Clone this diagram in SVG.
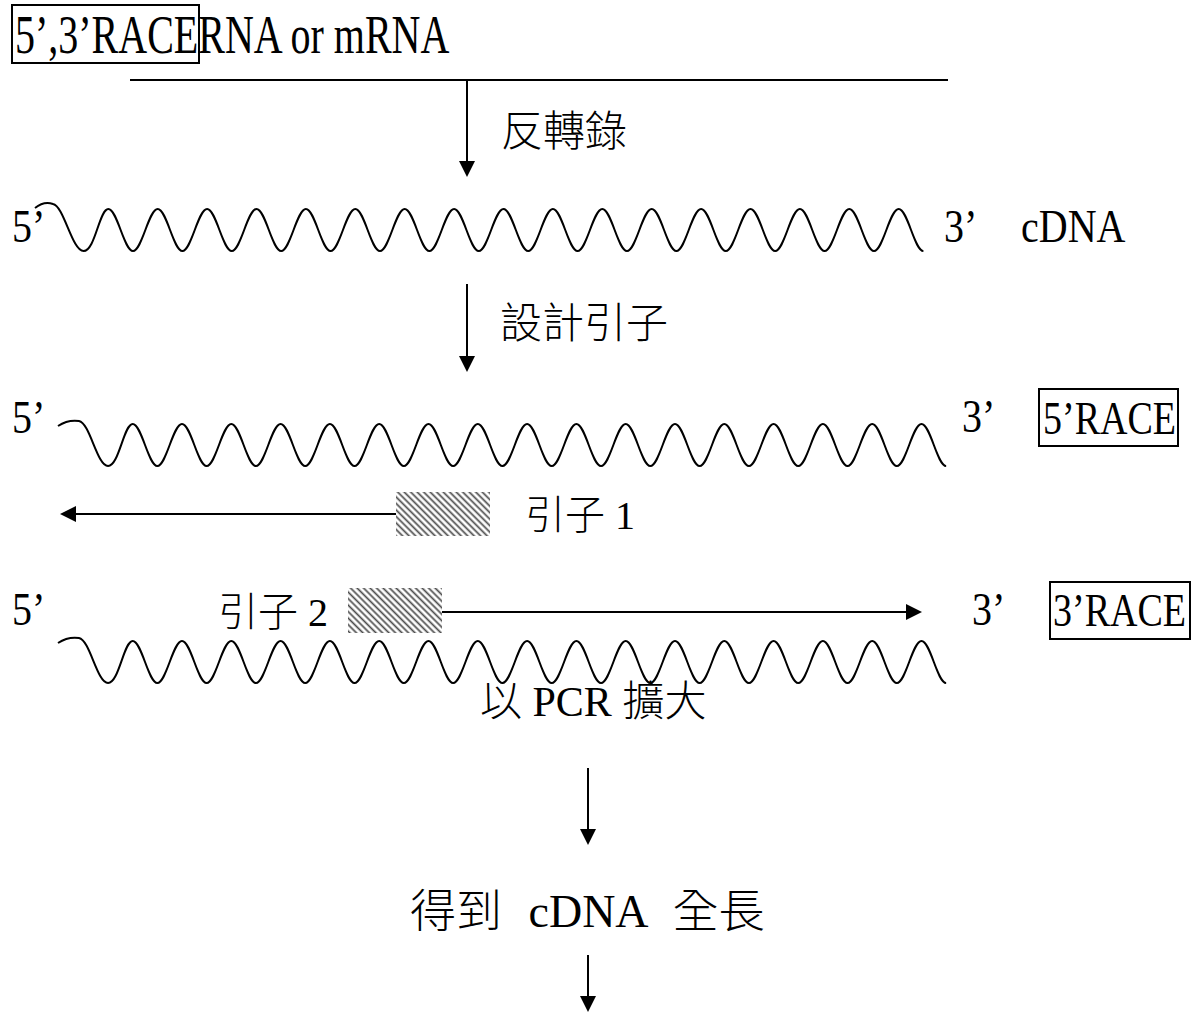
<svg xmlns="http://www.w3.org/2000/svg" width="1200" height="1015" viewBox="0 0 1200 1015">
<style>
.lat{font-family:"Liberation Serif","Noto Sans CJK TC",serif;font-size:40px;fill:#000}
.cjk{font-family:"Liberation Serif","Noto Sans CJK TC",sans-serif;font-size:42px;font-weight:300;fill:#000}
.ln{stroke:#000;stroke-width:2;fill:none}
.wave{stroke:#000;stroke-width:2;fill:none}
.box{fill:none;stroke:#000;stroke-width:2}
.hatch{fill:url(#hatch)}
</style>
<defs>
<marker id="ah" viewBox="0 0 16 16" refX="12" refY="8" markerWidth="16" markerHeight="16" orient="auto" markerUnits="userSpaceOnUse"><path d="M0,0 L16,8 L0,16 z" fill="#000"/></marker>
<pattern id="hatch" width="4.6" height="4.6" patternUnits="userSpaceOnUse" patternTransform="rotate(-45)"><rect width="4.6" height="4.6" fill="#fff"/><line x1="2.3" y1="0" x2="2.3" y2="4.6" stroke="#4a4a4a" stroke-width="1.7"/></pattern>
<path id="w2" class="wave" d="M58,426 C64,422 72,420 79,421 C90,423 97,466 108.05,466 s15.69,-42 24.65,-42 s15.69,42 24.65,42 s15.69,-42 24.65,-42 s15.69,42 24.65,42 s15.69,-42 24.65,-42 s15.69,42 24.65,42 s15.69,-42 24.65,-42 s15.69,42 24.65,42 s15.69,-42 24.65,-42 s15.69,42 24.65,42 s15.69,-42 24.65,-42 s15.69,42 24.65,42 s15.69,-42 24.65,-42 s15.69,42 24.65,42 s15.69,-42 24.65,-42 s15.69,42 24.65,42 s15.69,-42 24.65,-42 s15.69,42 24.65,42 s15.69,-42 24.65,-42 s15.69,42 24.65,42 s15.69,-42 24.65,-42 s15.69,42 24.65,42 s15.69,-42 24.65,-42 s15.69,42 24.65,42 s15.69,-42 24.65,-42 s15.69,42 24.65,42 s15.69,-42 24.65,-42 s15.69,42 24.65,42 s15.69,-42 24.65,-42 s15.69,42 24.65,42 s15.69,-42 24.65,-42 s15.69,42 24.65,42 s15.69,-42 24.65,-42 s15.69,42 24.65,42"/>
</defs>
<rect width="1200" height="1015" fill="#fff"/>

<g id="title">
<rect class="box" x="12" y="5" width="187" height="58"/>
<text class="lat" transform="translate(15,53) scale(1,1.36)">5’,3’RACERNA or mRNA</text>
</g>

<g id="rna">
<line class="ln" x1="130" y1="80" x2="948" y2="80"/>
</g>

<g id="cdna">
<text class="lat" transform="translate(12,242) scale(1,1.15)">5’</text>
<path class="wave" d="M35,208 C40,204 47,202 53,204 C64,206 72,251 83.6,251 s15.72,-42 24.7,-42 s15.72,42 24.7,42 s15.72,-42 24.7,-42 s15.72,42 24.7,42 s15.72,-42 24.7,-42 s15.72,42 24.7,42 s15.72,-42 24.7,-42 s15.72,42 24.7,42 s15.72,-42 24.7,-42 s15.72,42 24.7,42 s15.72,-42 24.7,-42 s15.72,42 24.7,42 s15.72,-42 24.7,-42 s15.72,42 24.7,42 s15.72,-42 24.7,-42 s15.72,42 24.7,42 s15.72,-42 24.7,-42 s15.72,42 24.7,42 s15.72,-42 24.7,-42 s15.72,42 24.7,42 s15.72,-42 24.7,-42 s15.72,42 24.7,42 s15.72,-42 24.7,-42 s15.72,42 24.7,42 s15.72,-42 24.7,-42 s15.72,42 24.7,42 s15.72,-42 24.7,-42 s15.72,42 24.7,42 s15.72,-42 24.7,-42 s15.72,42 24.7,42 s15.72,-42 24.7,-42 s15.72,42 24.7,42 s15.72,-42 24.7,-42 s15.72,42 24.7,42"/>
<text class="lat" transform="translate(944,242) scale(1,1.15)">3’</text>
<text class="lat" transform="translate(1021,242) scale(1,1.15)">cDNA</text>
</g>

<g id="race5">
<text class="lat" transform="translate(12,433) scale(1,1.15)">5’</text>
<use href="#w2"/>
<text class="lat" transform="translate(962,432) scale(1,1.15)">3’</text>
<rect class="box" x="1039" y="389" width="139" height="57"/>
<text class="lat" style="font-size:38px" transform="translate(1043,434) scale(1,1.2)">5’RACE</text>
</g>

<g id="primer1">
<rect class="hatch" x="396" y="492" width="94" height="44"/>
<text class="cjk" style="font-size:40px" x="525" y="529">引子 1</text>
</g>

<g id="race3">
<text class="lat" transform="translate(12,625) scale(1,1.15)">5’</text>
<use href="#w2" transform="translate(0,217)"/>
<text class="lat" transform="translate(972,625) scale(1,1.15)">3’</text>
<rect class="box" x="1050" y="582" width="140" height="57"/>
<text class="lat" style="font-size:38px" transform="translate(1053,626) scale(1,1.2)">3’RACE</text>
</g>

<g id="primer2">
<text class="cjk" style="font-size:40px" x="218" y="626">引子 2</text>
<rect class="hatch" x="348" y="588" width="94" height="45"/>
</g>

<g id="pcr">
<text class="cjk" x="480" y="716">以 PCR 擴大</text>
</g>

<g id="full">
<text class="cjk" style="font-size:46px;word-spacing:15px" x="410" y="927">得到 cDNA 全長</text>
</g>

<g id="connectors">
<line class="ln" x1="467" y1="80" x2="467" y2="173" marker-end="url(#ah)"/>
<text class="cjk" x="501" y="146">反轉錄</text>
<line class="ln" x1="467" y1="284" x2="467" y2="368" marker-end="url(#ah)"/>
<text class="cjk" x="500" y="338">設計引子</text>
<line class="ln" x1="396" y1="514" x2="64" y2="514" marker-end="url(#ah)"/>
<line class="ln" x1="442" y1="612" x2="918" y2="612" marker-end="url(#ah)"/>
<line class="ln" x1="588" y1="768" x2="588" y2="841" marker-end="url(#ah)"/>
<line class="ln" x1="588" y1="955" x2="588" y2="1008" marker-end="url(#ah)"/>
</g>
</svg>
